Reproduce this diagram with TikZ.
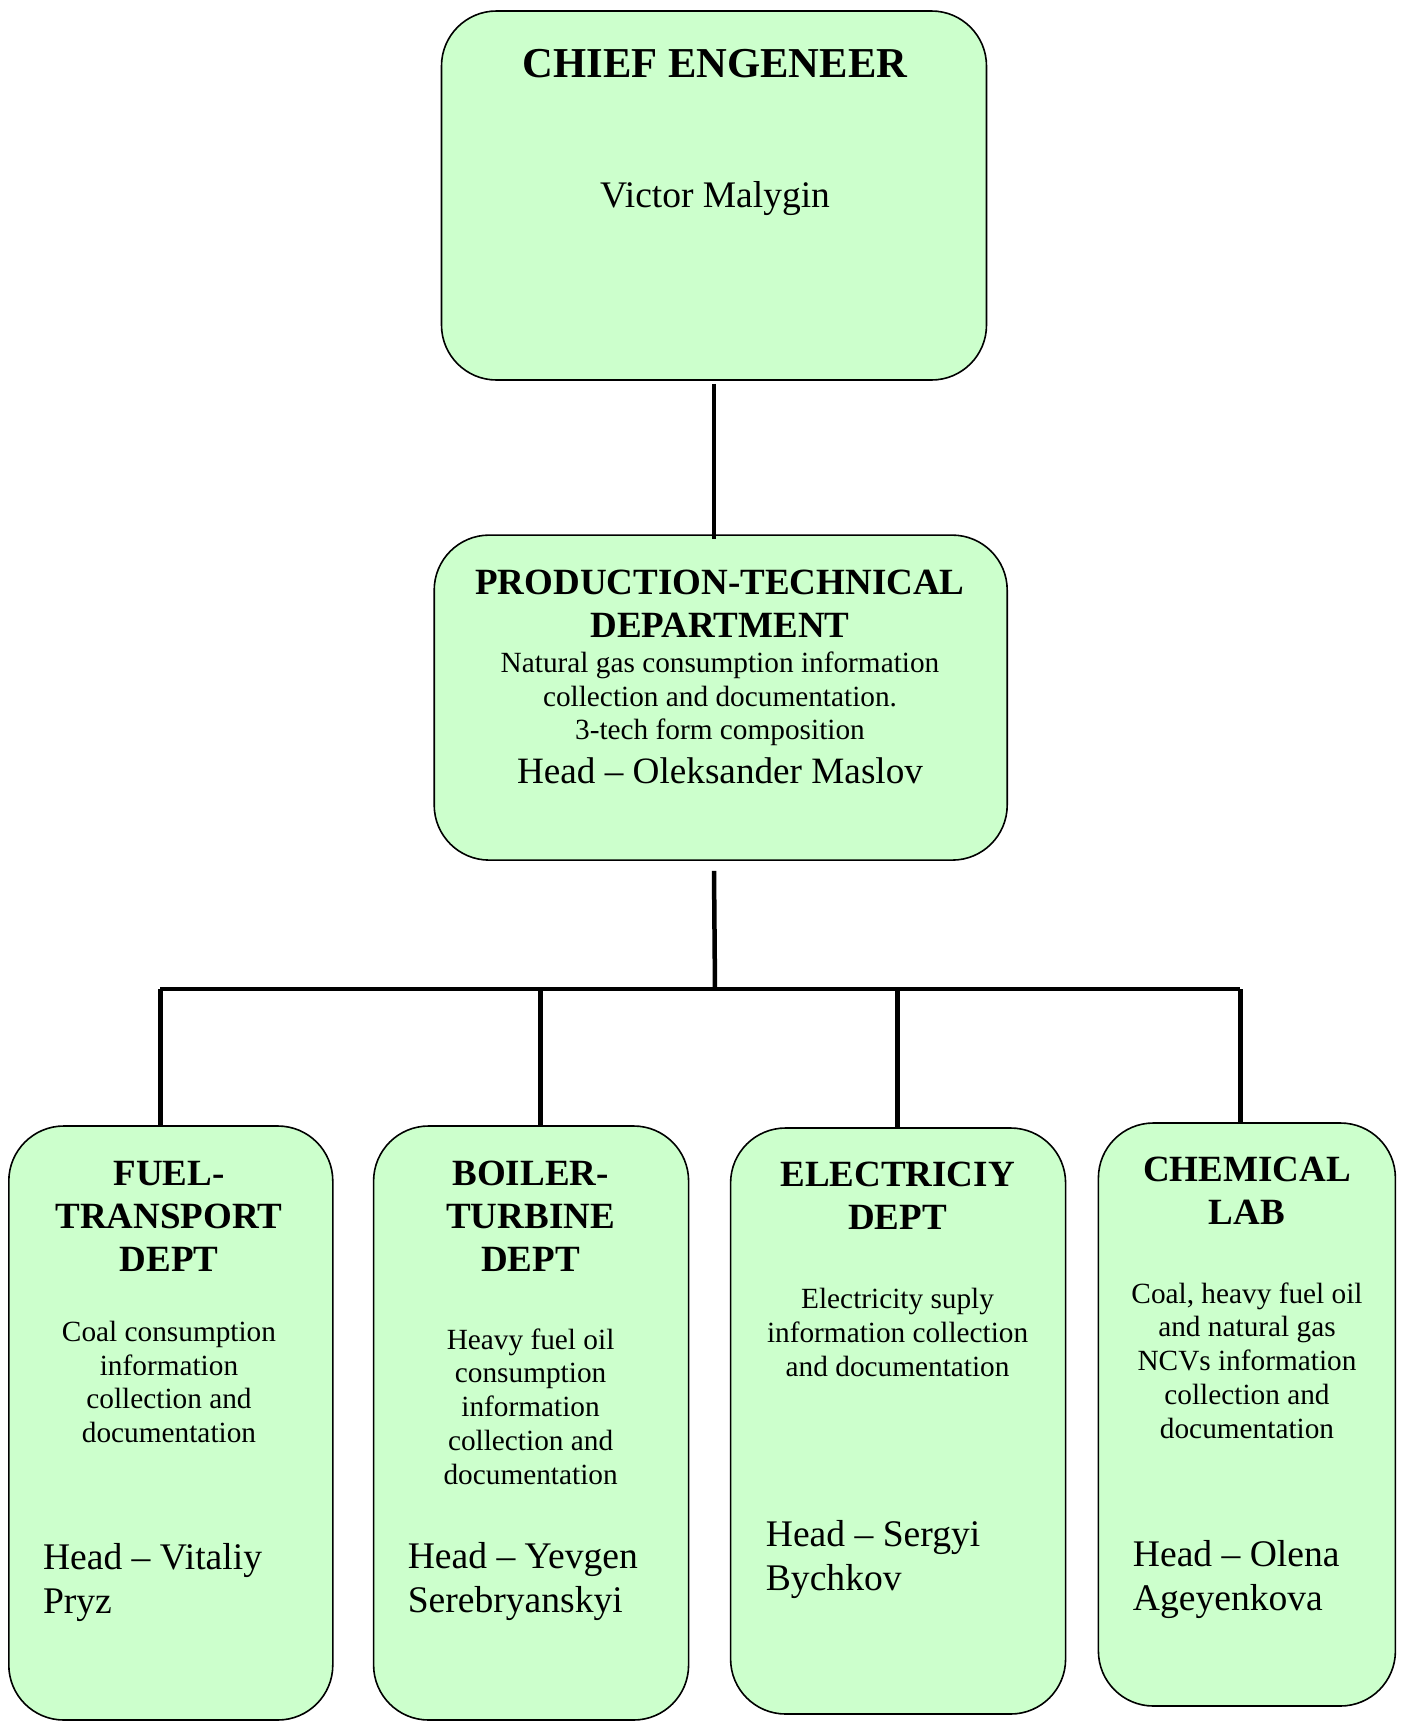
\documentclass[tikz,border=0pt]{standalone}
\usepackage{fontspec}
\setmainfont{Liberation Serif}
\definecolor{boxgreen}{HTML}{CCFFCC}
\begin{document}
\begin{tikzpicture}[x=1pt,y=-1pt,
  box/.style={draw=black, line width=1.6pt, fill=boxgreen, rounded corners=55pt, inner sep=0pt},
  ttl/.style={font=\fontsize{37}{43}\selectfont\bfseries, align=center, inner sep=0pt},
  dsc/.style={font=\fontsize{29.3}{33.7}\selectfont, align=center, inner sep=0pt},
  hd/.style={font=\fontsize{37.6}{44}\selectfont, align=left, anchor=west, inner sep=0pt},
  conn/.style={line width=4.5pt}]
\useasboundingbox (0,0) rectangle (1404,1722);
\fill[white] (0,0) rectangle (1404,1722);

% boxes
\node[box, minimum width=545pt, minimum height=369pt] (ce) at (714,195.5) {};
\node[box, minimum width=573pt, minimum height=325pt] (ptd) at (720.7,697.6) {};
\node[box, minimum width=324pt, minimum height=594pt] (ft) at (170.8,1423) {};
\node[box, minimum width=315pt, minimum height=594pt] (bt) at (531.1,1423) {};
\node[box, minimum width=335pt, minimum height=586pt] (ed) at (898.1,1421) {};
\node[box, minimum width=297pt, minimum height=583pt] (cl) at (1246.9,1414.5) {};

% chief engineer
\node[font=\fontsize{42.6}{48}\selectfont\bfseries, inner sep=0pt] (ceT) at (715,64) {CHIEF ENGENEER};
\node[font=\fontsize{37.5}{43}\selectfont, inner sep=0pt] (ceN) at (715,199) {Victor Malygin};

% production-technical
\node[ttl] (ptdT) at (720,603.5) {PRODUCTION-TECHNICAL\\DEPARTMENT};
\node[dsc] (ptdD) at (720,699) {Natural gas consumption information\\collection and documentation.\\3-tech form composition};
\node[font=\fontsize{37.2}{43}\selectfont, inner sep=0pt] (ptdH) at (720,771) {Head -- Oleksander Maslov};

% fuel-transport
\node[ttl] (ftT) at (169,1216) {FUEL-\\TRANSPORT\\DEPT};
\node[dsc] (ftD) at (169,1382) {Coal consumption\\information\\collection and\\documentation};
\node[hd] (ftH) at (42.8,1582) {Head -- Vitaliy\\Pryz};

% boiler-turbine
\node[ttl] (btT) at (530.6,1216) {BOILER-\\TURBINE\\DEPT};
\node[dsc] (btD) at (530.6,1406.5) {Heavy fuel oil\\consumption\\information\\collection and\\documentation};
\node[hd] (btH) at (407.6,1581) {Head -- Yevgen\\Serebryanskyi};

% electricity
\node[ttl] (edT) at (897.6,1195.8) {ELECTRICIY\\DEPT};
\node[dsc] (edD) at (897.6,1332.6) {Electricity suply\\information collection\\and documentation};
\node[hd] (edH) at (765.7,1559) {Head -- Sergyi\\Bychkov};

% chemical lab
\node[ttl] (clT) at (1247,1190.4) {CHEMICAL\\LAB};
\node[dsc] (clD) at (1247,1360.5) {Coal, heavy fuel oil\\and natural gas\\NCVs information\\collection and\\documentation};
\node[hd] (clH) at (1132.7,1579) {Head -- Olena\\Ageyenkova};

% connectors
\coordinate (bar) at (715,989);
\coordinate (d1) at (160.4,989);
\coordinate (d2) at (540.5,989);
\coordinate (d3) at (897.6,989);
\coordinate (d4) at (1240.3,989);
\draw[conn] ([yshift=-3pt]ce.south) -- ([yshift=-5pt]ce.south |- ptd.north);
\draw[conn] ([yshift=-10pt]ptd.south -| ce.south) -- (bar);
\draw[conn] (d1) -- (d4);
\draw[conn] (d1) -- (d1 |- ft.north);
\draw[conn] (d2) -- (d2 |- bt.north);
\draw[conn] (d3) -- (d3 |- ed.north);
\draw[conn] (d4) -- (d4 |- cl.north);
\end{tikzpicture}
\end{document}
